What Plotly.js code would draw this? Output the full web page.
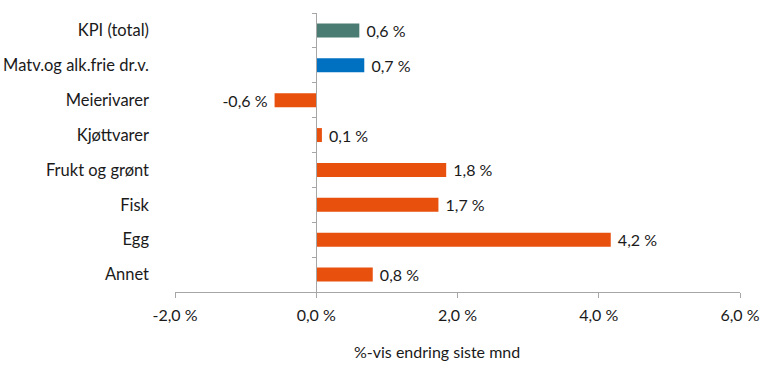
<!DOCTYPE html>
<html>
<head>
<meta charset="utf-8">
<script src="https://cdn.plot.ly/plotly-3.0.1.min.js"></script>
<style>html,body{margin:0;padding:0;background:#fff;}#chart{width:768px;height:369px;}</style>
</head>
<body>
<div id="chart"></div>
<script>
const categories = ["KPI (total)", "Matv.og alk.frie dr.v.", "Meierivarer", "Kjøttvarer", "Frukt og grønt", "Fisk", "Egg", "Annet"];
const values = [0.61, 0.68, -0.59, 0.08, 1.84, 1.73, 4.17, 0.80];
const barColors = ["#4a7c73", "#0070c0", "#e8500e", "#e8500e", "#e8500e", "#e8500e", "#e8500e", "#e8500e"];
const xTickVals = [-2, 0, 2, 4, 6];
const xTickText = ["-2,0 %", "0,0 %", "2,0 %", "4,0 %", "6,0 %"];
const xTitle = "%-vis endring siste mnd";

const fmt = v => v.toFixed(1).replace('.', ',') + ' %';
const labels = values.map(v => v >= 0 ? '\u00a0' + fmt(v) : fmt(v) + '\u00a0');

const FONT = "Lato, 'Open Sans', sans-serif";
const axisGray = "#a6a6a6";
const txt = '#1a1a1a';

const traces = [
  {
    type: 'bar', orientation: 'h',
    x: values, y: categories,
    marker: {color: barColors},
    width: 0.4,
    text: labels, textposition: 'outside', cliponaxis: false, constraintext: 'none',
    textfont: {family: FONT, size: 16, color: txt},
    hoverinfo: 'skip'
  },
  {
    type: 'scatter', mode: 'markers',
    x: categories.map(() => 0), y: categories,
    yaxis: 'y2', marker: {opacity: 0}, hoverinfo: 'skip', showlegend: false
  }
];

const layout = {
  width: 768, height: 369,
  margin: {l: 175, r: 28, t: 13, b: 77},
  paper_bgcolor: '#fff', plot_bgcolor: '#fff',
  showlegend: false,
  separators: ', ',
  font: {family: FONT, size: 16, color: txt},
  xaxis: {
    range: [-2, 6], tickvals: xTickVals, ticktext: xTickText,
    showgrid: false, zeroline: false,
    showline: true, linecolor: axisGray, linewidth: 1,
    ticks: 'outside', ticklen: 5, tickcolor: axisGray,
    ticklabelstandoff: 4,
    tickfont: {family: FONT, size: 16, color: txt}
  },
  yaxis: {
    type: 'category', categoryarray: categories, range: [7.5, -0.5],
    showgrid: false, zeroline: false, showline: false, ticks: '',
    ticklabelstandoff: 25,
    tickfont: {family: FONT, size: 16.5, color: txt}
  },
  yaxis2: {
    type: 'category', categoryarray: categories, range: [7.5, -0.5],
    overlaying: 'y', anchor: 'free', position: 0.25, side: 'left',
    showgrid: false, zeroline: false, showline: true, linecolor: axisGray, linewidth: 1,
    ticks: 'outside', tickson: 'boundaries', ticklen: 4, tickcolor: axisGray,
    showticklabels: false
  },
  annotations: [{
    text: xTitle, xref: 'paper', yref: 'paper', x: 0.463, y: -0.215,
    xanchor: 'center', yanchor: 'middle', showarrow: false,
    font: {family: FONT, size: 16, color: txt}
  }]
};

Plotly.newPlot('chart', traces, layout, {displayModeBar: false, staticPlot: true});
</script>
</body>
</html>
